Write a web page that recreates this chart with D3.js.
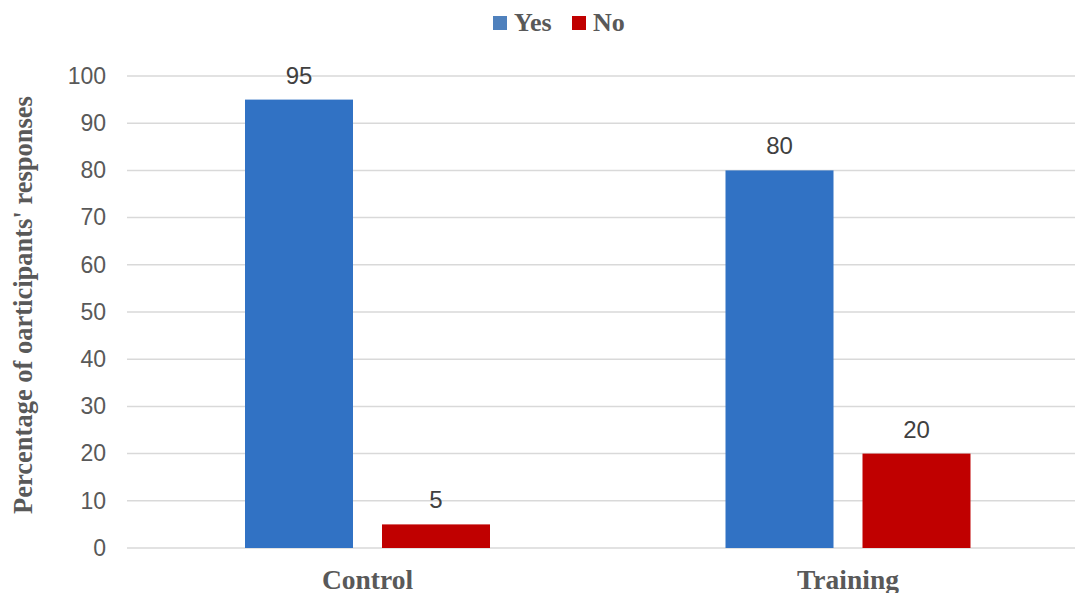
<!DOCTYPE html>
<html>
<head>
<meta charset="utf-8">
<script src="https://cdn.jsdelivr.net/npm/d3@7"></script>
<style>
  html, body { margin: 0; padding: 0; background: #fff; }
  svg { display: block; }
</style>
</head>
<body>
<svg id="chart" width="1075" height="593"></svg>
<script>
// Survey responses per group
const categories = ["Control", "Training"];
const seriesNames = ["Yes", "No"];
const yesValues = [95, 80];
const noValues = [5, 20];
const yTicks = [0, 10, 20, 30, 40, 50, 60, 70, 80, 90, 100];
const yTitle = "Percentage of oarticipants' responses";

const colors = { Yes: "#3172C4", No: "#C00000" };
const legendColors = { Yes: "#4F81BD", No: "#C00000" };

const W = 1075, H = 593;
const plot = { left: 127, right: 1088, top: 76, bottom: 548 };

const svg = d3.select("#chart");

const x = d3.scaleBand().domain(categories).range([plot.left, plot.right]).padding(0);
// bars sit in the middle of each category band
const groupInset = 118, groupWidth = 245;
const xSub = d3.scaleBand().domain(seriesNames)
  .range([groupInset, groupInset + groupWidth]).paddingInner(29 / 137);
const y = d3.scaleLinear().domain([0, 100]).range([plot.bottom, plot.top]);

// gridlines
const grid = svg.append("g");
grid.selectAll("line").data(yTicks).join("line")
  .attr("x1", plot.left).attr("x2", W)
  .attr("y1", d => y(d)).attr("y2", d => y(d))
  .attr("stroke", "#d9d9d9").attr("stroke-width", 1.5);

// y axis labels
const yAxis = d3.axisLeft(y).tickValues(yTicks).tickSize(0).tickPadding(0);
const ya = svg.append("g").attr("transform", `translate(${plot.left - 21},0)`).call(yAxis);
ya.select(".domain").remove();
ya.selectAll("text")
  .attr("font-family", "Liberation Sans, Arial, sans-serif")
  .attr("font-size", 23).attr("fill", "#595959");

// bars
const rows = categories.map((c, i) => ({ cat: c, Yes: yesValues[i], No: noValues[i] }));
const groups = svg.append("g").selectAll("g").data(rows).join("g")
  .attr("transform", d => `translate(${x(d.cat)},0)`);

groups.selectAll("rect")
  .data(d => seriesNames.map(s => ({ s, v: d[s] })))
  .join("rect")
  .attr("x", d => xSub(d.s)).attr("width", xSub.bandwidth())
  .attr("y", d => y(d.v)).attr("height", d => y(0) - y(d.v))
  .attr("fill", d => colors[d.s]);

groups.selectAll("text.val")
  .data(d => seriesNames.map(s => ({ s, v: d[s] })))
  .join("text").attr("class", "val")
  .attr("x", d => xSub(d.s) + xSub.bandwidth() / 2)
  .attr("y", d => y(d.v) - 16)
  .attr("text-anchor", "middle")
  .attr("font-family", "Liberation Sans, Arial, sans-serif")
  .attr("font-size", 24).attr("fill", "#404040")
  .text(d => d.v);

// category labels
svg.append("g").selectAll("text").data(categories).join("text")
  .attr("x", d => x(d) + groupInset + groupWidth / 2)
  .attr("y", 589)
  .attr("text-anchor", "middle")
  .attr("font-family", "Liberation Serif, Times New Roman, serif")
  .attr("font-weight", "bold").attr("font-size", 27.5).attr("fill", "#595959")
  .text(d => d);

// y axis title
svg.append("text")
  .attr("transform", `translate(32,305) rotate(-90)`)
  .attr("text-anchor", "middle")
  .attr("font-family", "Liberation Serif, Times New Roman, serif")
  .attr("font-weight", "bold").attr("font-size", 26.5).attr("fill", "#595959")
  .text(yTitle);

// legend
const legend = svg.append("g");
const legendItems = [
  { name: "Yes", x: 493 },
  { name: "No", x: 572 }
];
legend.selectAll("rect").data(legendItems).join("rect")
  .attr("x", d => d.x).attr("y", 16).attr("width", 14).attr("height", 14)
  .attr("fill", d => legendColors[d.name]);
legend.selectAll("text").data(legendItems).join("text")
  .attr("x", d => d.x + 21).attr("y", 31)
  .attr("font-family", "Liberation Serif, Times New Roman, serif")
  .attr("font-weight", "bold").attr("font-size", 26).attr("fill", "#595959")
  .text(d => d.name);
</script>
</body>
</html>
